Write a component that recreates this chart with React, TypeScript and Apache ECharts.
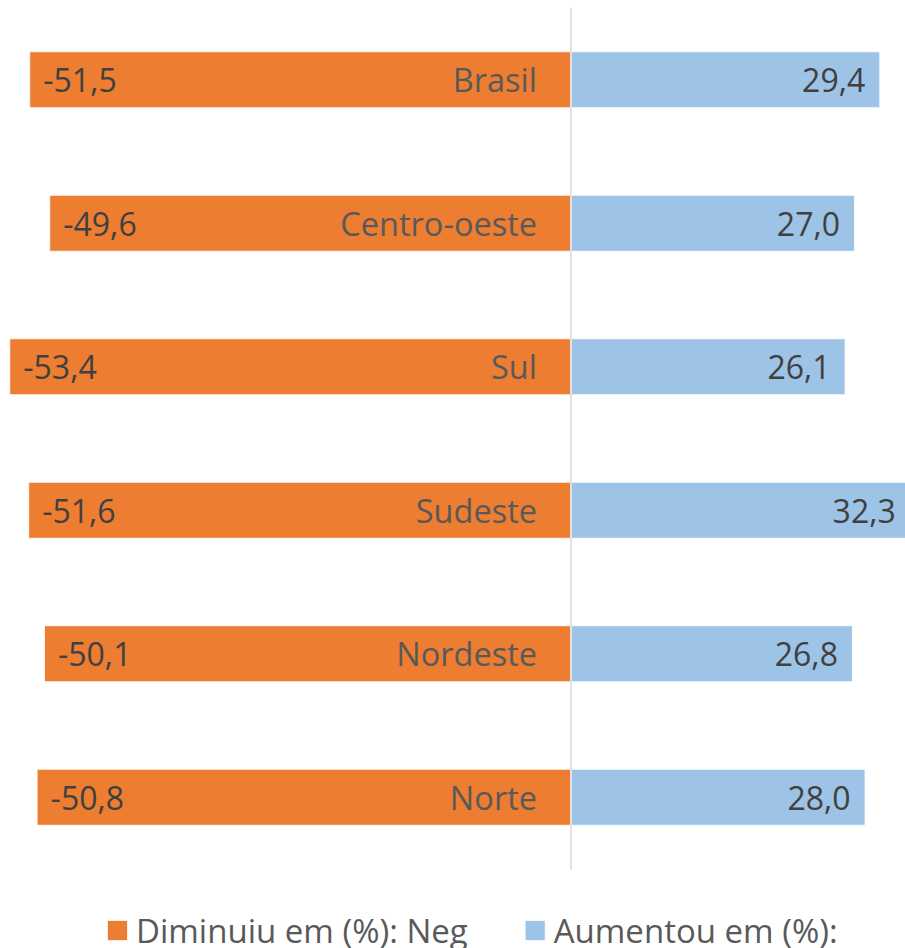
import React, { useEffect, useRef } from "react";
import * as echarts from "echarts";

const categories = ["Brasil", "Centro-oeste", "Sul", "Sudeste", "Nordeste", "Norte"];
const decreased = [-51.5, -49.6, -53.4, -51.6, -50.1, -50.8];
const increased = [29.4, 27.0, 26.1, 32.3, 26.8, 28.0];
const seriesNames = ["Diminuiu em (%): Neg", "Aumentou em (%):"];

const FONT = "'Open Sans', sans-serif";
const fmt = (v: number) => v.toFixed(1).replace(".", ",");

export default function App() {
  const ref = useRef<HTMLDivElement>(null);
  useEffect(() => {
    if (!ref.current) return;
    const chart = echarts.init(ref.current, null, { renderer: "svg" });
    chart.setOption({
      animation: false,
      textStyle: { fontFamily: FONT },
      grid: { left: 0, right: 0, top: 8, height: 861, containLabel: false, outerBoundsMode: "none" },
      legend: {
        left: 106,
        top: 914,
        padding: 0,
        itemWidth: 21,
        itemHeight: 21,
        itemGap: 56,
        icon: "rect",
        textStyle: { fontFamily: FONT, fontSize: 33, color: "#595959", lineHeight: 30, padding: [0, 0, 0, 3] },
        data: seriesNames,
      },
      xAxis: {
        type: "value",
        min: -54.28,
        max: 40.78,
        show: false,
      },
      yAxis: {
        type: "category",
        data: categories,
        inverse: true,
        z: 10,
        axisLine: { show: true, onZero: true, lineStyle: { color: "#d9d9d9", width: 1.5 } },
        axisTick: { show: false },
        splitLine: { show: false },
        axisLabel: { show: false },
      },
      series: [
        {
          name: seriesNames[0],
          type: "bar",
          data: decreased,
          barWidth: 57,
          barGap: "-100%",
          itemStyle: { color: "#ED7D31", borderColor: "rgba(255,255,255,0.85)", borderWidth: 1 },
          label: {
            show: true,
            position: "insideLeft",
            distance: 14,
            fontSize: 32,
            color: "#404040",
            fontFamily: FONT,
            formatter: (p: any) => fmt(p.value),
          },
        },
        {
          name: seriesNames[1],
          type: "bar",
          data: increased,
          barWidth: 57,
          barGap: "-100%",
          itemStyle: { color: "#9DC3E6", borderColor: "rgba(255,255,255,0.85)", borderWidth: 1 },
          label: {
            show: true,
            position: "insideRight",
            distance: 15,
            fontSize: 32,
            color: "#404040",
            fontFamily: FONT,
            formatter: (p: any) => fmt(p.value),
          },
        },
        {
          name: "categoryLabels",
          type: "bar",
          data: categories.map(() => 0),
          barWidth: 57,
          barGap: "-100%",
          z: 5,
          silent: true,
          itemStyle: { color: "transparent" },
          label: {
            show: true,
            position: "left",
            distance: 34,
            fontSize: 32.5,
            color: "#595959",
            fontFamily: FONT,
            formatter: (p: any) => p.name,
          },
        },
      ],
    });
    return () => chart.dispose();
  }, []);
  return (
    <div style={{ position: "fixed", left: 0, top: 0, width: 905, height: 948, overflow: "hidden", background: "#fff" }}>
      <div ref={ref} style={{ width: 1000, height: 948 }} />
    </div>
  );
}
